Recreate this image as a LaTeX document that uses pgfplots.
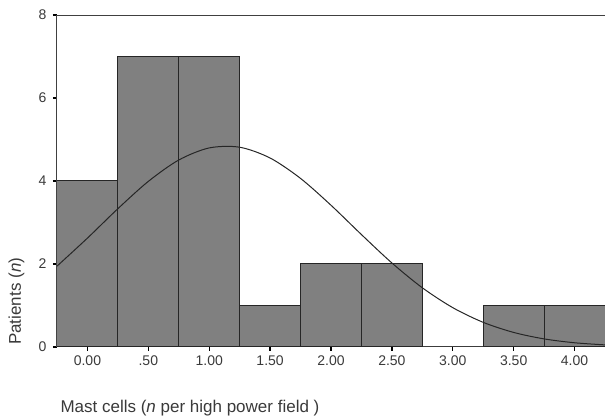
\documentclass[border=0pt]{standalone}
\usepackage{fontspec}
\setmainfont{Liberation Sans}
\usepackage{pgfplots}
\pgfplotsset{compat=1.18}
\definecolor{barfill}{HTML}{808080}
\definecolor{baredge}{HTML}{262626}
\definecolor{txt}{HTML}{3A3A3A}
\begin{document}
\begin{tikzpicture}
\begin{axis}[
  at={(0pt,0pt)}, anchor=south west,
  width=548pt, height=332pt,
  scale only axis,
  xmin=-0.25, xmax=4.25,
  ymin=0, ymax=8,
  axis x line=box, axis y line=left,
  axis line style={-, black!75, line width=1pt},
  xtick={0,0.5,1,1.5,2,2.5,3,3.5,4},
  xticklabels={0.00,.50,1.00,1.50,2.00,2.50,3.00,3.50,4.00},
  ytick={0,2,4,6,8},
  xtick pos=bottom, ytick pos=left,
  tick align=outside,
  major tick length=4pt,
  tick style={black, line width=1.3pt},
  /pgf/number format/assume math mode=true,
  tick label style={font=\fontsize{14}{16}\selectfont, text=txt},
  xticklabel style={yshift=-1pt},
  yticklabel style={xshift=-3pt},
  xlabel={Mast cells (\textit{n} per high power field )},
  ylabel={Patients (\textit{n})},
  label style={font=\fontsize{17}{20}\selectfont, text=txt},
  xlabel style={at={(axis description cs:0,-0.198)}, anchor=base west},
  ylabel style={at={(axis description cs:-0.066,-0.004)}, anchor=base west},
]
\addplot[ybar interval, fill=barfill, draw=baredge, line width=1pt] coordinates {
  (-0.25,4) (0.25,7) (0.75,7) (1.25,1) (1.75,2) (2.25,2) (2.75,0) (3.25,1) (3.75,1) (4.25,1)
};
\addplot[black!85, line width=1pt, smooth] coordinates {
  (-0.25,1.948) (0,2.624) (0.25,3.333) (0.5,3.991) (0.75,4.506) (1.0,4.797)
  (1.25,4.814) (1.5,4.554) (1.75,4.062) (2.0,3.416) (2.25,2.709)
  (2.5,2.025) (2.75,1.427) (3.0,0.948) (3.25,0.594) (3.5,0.351) (3.75,0.195)
  (4.0,0.102) (4.25,0.051)
};
\end{axis}
\pgfresetboundingbox
\path[use as bounding box] (-57pt,-70pt) rectangle (548pt,347pt);
\end{tikzpicture}
\end{document}
